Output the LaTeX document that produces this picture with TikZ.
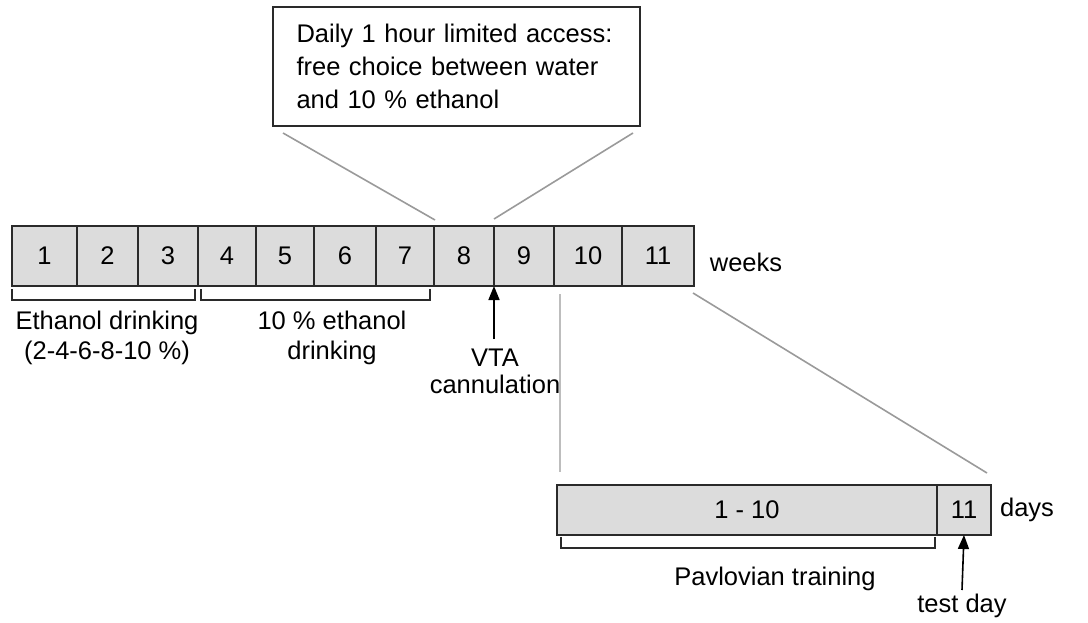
\documentclass[tikz,border=0pt]{standalone}
\usepackage{fontspec}
\setmainfont{Liberation Sans}
\usetikzlibrary{arrows.meta}
\definecolor{cellfill}{HTML}{DCDCDC}
\definecolor{edge}{HTML}{2A2A2A}
\definecolor{guide}{HTML}{9A9A9A}
\definecolor{guidelight}{HTML}{BDBDBD}
\begin{document}
\begin{tikzpicture}[x=1pt,y=-1pt,
  font=\fontsize{25.5}{30}\selectfont,
  cell/.style={draw=edge, fill=cellfill, line width=1.6pt, anchor=north west,
    minimum height=60, inner sep=0, outer sep=0},
  daycell/.style={cell, minimum height=50},
  label/.style={inner sep=0, align=center, text=black},
  guideline/.style={draw=guide, line width=1.6pt},
  lightline/.style={draw=guidelight, line width=2pt},
  bracket/.style={draw=edge, line width=1.4pt},
  arrowline/.style={draw=black, line width=1.6pt, -{Triangle[length=14pt,width=11pt]}}
]
\useasboundingbox (0,0) rectangle (1088,623);

% callout box
\node[draw=edge, line width=1.4pt, fill=white, anchor=north west, outer sep=0,
  minimum width=367, minimum height=119, text width=320, align=left, inner xsep=0,
  font=\fontsize{25.5}{33}\selectfont] (callout) at (273,7)
  {Daily 1 hour limited access:\\free choice between water\\and 10 \% ethanol};

% week cells
\node[cell, minimum width=65] (w1) at (12,226) {1};
\node[cell, minimum width=61] (w2) at (w1.north east) {2};
\node[cell, minimum width=60] (w3) at (w2.north east) {3};
\node[cell, minimum width=58] (w4) at (w3.north east) {4};
\node[cell, minimum width=58] (w5) at (w4.north east) {5};
\node[cell, minimum width=62] (w6) at (w5.north east) {6};
\node[cell, minimum width=58] (w7) at (w6.north east) {7};
\node[cell, minimum width=60] (w8) at (w7.north east) {8};
\node[cell, minimum width=60] (w9) at (w8.north east) {9};
\node[cell, minimum width=68] (w10) at (w9.north east) {10};
\node[cell, minimum width=72] (w11) at (w10.north east) {11};
\node[label] (weeks) at (746,262) {weeks};

% callout guide lines
\coordinate (cl1) at (283,133);
\coordinate (cl2) at (435,220);
\coordinate (cr1) at (633,133);
\coordinate (cr2) at (494,219);
\draw[guideline] (cl1) -- (cl2);
\draw[guideline] (cr1) -- (cr2);

% brackets under weeks
\draw[bracket] (12,289) |- (195,300) -- (195,289);
\draw[bracket] (201,289) |- (430,300) -- (430,289);
\node[label, font=\fontsize{25.5}{30}\selectfont] (ethdrink) at (107,338)
  {Ethanol drinking\\(2-4-6-8-10 \%)};
\node[label, font=\fontsize{25.5}{30}\selectfont] (tendrink) at (332,338)
  {10 \% ethanol\\drinking};

% VTA cannulation
\coordinate (vtatail) at (494,339);
\draw[arrowline] (vtatail) -- (w9.south west);
\node[label, font=\fontsize{25.5}{27}\selectfont] (vta) at (495,371) {VTA\\cannulation};

% day cells
\node[daycell, minimum width=380] (d1) at (557,485) {1 - 10};
\node[daycell, minimum width=54] (d2) at (d1.north east) {11};
\node[label] (days) at (1027,510) {days};

% zoom guide lines
\coordinate (zl1) at (560,294);
\coordinate (zl2) at (560,472);
\coordinate (zr1) at (693,293);
\coordinate (zr2) at (987,473);
\draw[lightline] (zl1) -- (zl2);
\draw[guideline] (zr1) -- (zr2);

% bracket under days
\draw[bracket] (561,537) |- (935,548) -- (935,537);
\node[label] (pav) at (775,579) {Pavlovian training};

% test day
\coordinate (testtail) at (962,590);
\draw[arrowline] (testtail) -- (d2.south);
\node[label] (test) at (962,606) {test day};
\end{tikzpicture}
\end{document}
